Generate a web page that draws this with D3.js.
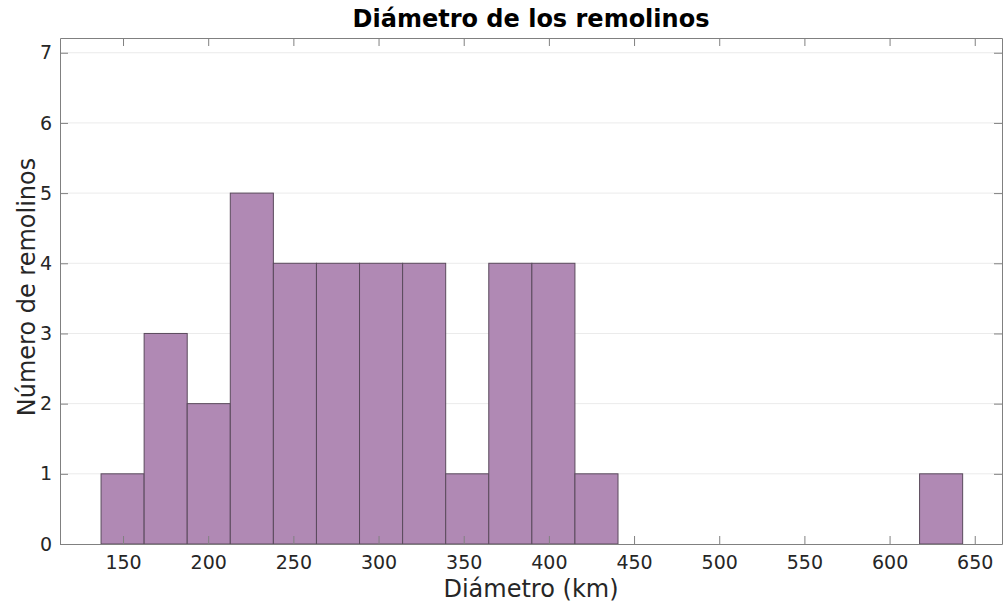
<!DOCTYPE html>
<html>
<head>
<meta charset="utf-8">
<script src="https://cdn.jsdelivr.net/npm/d3@7"></script>
<style>
  body { margin: 0; background: #fff; }
  text { font-family: "DejaVu Sans", sans-serif; fill: #262626; }
</style>
</head>
<body>
<svg width="1003" height="605"></svg>
<script>
// histogram data (20 bins)
const binStart = 137.1;
const binWidth = 25.29;
const counts = [1, 3, 2, 5, 4, 4, 4, 4, 1, 4, 4, 1, 0, 0, 0, 0, 0, 0, 0, 1];
const xTicks = [150, 200, 250, 300, 350, 400, 450, 500, 550, 600, 650];
const yTicks = [0, 1, 2, 3, 4, 5, 6, 7];

const margin = {top: 38, right: 1, bottom: 61, left: 60};
const width = 1003 - margin.left - margin.right;
const height = 605 - margin.top - margin.bottom;

const bins = counts.map((c, i) => ({x0: binStart + i * binWidth, x1: binStart + (i + 1) * binWidth, n: c}));

const svg = d3.select("svg");
const g = svg.append("g").attr("transform", "translate(" + margin.left + "," + margin.top + ")");

const x = d3.scaleLinear().domain([113, 666]).range([0, width]);
const y = d3.scaleLinear().domain([0, 7.21]).range([height, 0]);

// grid
g.append("g")
  .selectAll("line")
  .data(yTicks.slice(1))
  .enter().append("line")
  .attr("x1", 0).attr("x2", width)
  .attr("y1", d => y(d)).attr("y2", d => y(d))
  .attr("stroke", "#ebebeb").attr("stroke-width", 1);

// bars
g.append("g")
  .selectAll("rect")
  .data(bins.filter(b => b.n > 0))
  .enter().append("rect")
  .attr("x", d => x(d.x0))
  .attr("width", d => x(d.x1) - x(d.x0))
  .attr("y", d => y(d.n))
  .attr("height", d => y(0) - y(d.n))
  .attr("fill", "#b089b4")
  .attr("stroke", "#5a4a5c")
  .attr("stroke-width", 1);

// axes
const axisColor = "#808080";
function styleAxis(sel) {
  sel.select(".domain").attr("stroke", axisColor);
  sel.selectAll(".tick line").attr("stroke", axisColor);
  sel.selectAll(".tick text").style("font-size", "19px").attr("fill", "#262626");
}

g.append("g")
  .attr("transform", "translate(0," + height + ")")
  .call(d3.axisBottom(x).tickValues(xTicks).tickSizeInner(-8).tickSizeOuter(0).tickPadding(12))
  .call(styleAxis);

g.append("g")
  .call(d3.axisTop(x).tickValues(xTicks).tickSizeInner(-8).tickSizeOuter(0).tickFormat(""))
  .call(styleAxis);

g.append("g")
  .call(d3.axisLeft(y).tickValues(yTicks).tickSizeInner(-8).tickSizeOuter(0).tickPadding(8))
  .call(styleAxis);

g.append("g")
  .attr("transform", "translate(" + width + ",0)")
  .call(d3.axisRight(y).tickValues(yTicks).tickSizeInner(-8).tickSizeOuter(0).tickFormat(""))
  .call(styleAxis);

// title
svg.append("text")
  .attr("x", margin.left + width / 2)
  .attr("y", 27)
  .attr("text-anchor", "middle")
  .style("font-size", "24px")
  .style("font-weight", "bold")
  .style("fill", "#000")
  .text("Diámetro de los remolinos");

// axis labels
svg.append("text")
  .attr("x", margin.left + width / 2)
  .attr("y", 597)
  .attr("text-anchor", "middle")
  .style("font-size", "24px")
  .text("Diámetro (km)");

svg.append("text")
  .attr("transform", "translate(35," + (margin.top + height / 2 - 4) + ") rotate(-90)")
  .attr("text-anchor", "middle")
  .style("font-size", "24px")
  .text("Número de remolinos");
</script>
</body>
</html>
